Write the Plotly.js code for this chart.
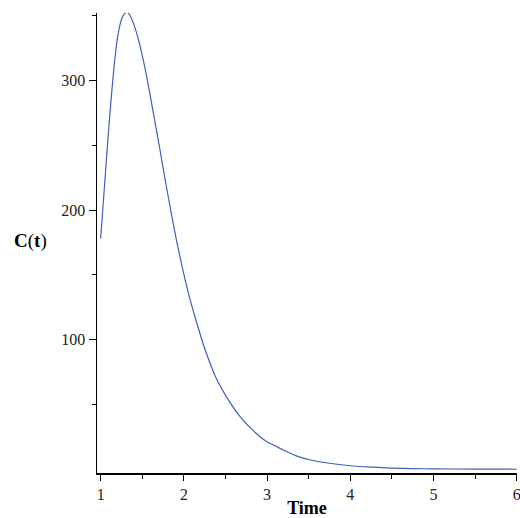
<!DOCTYPE html>
<html>
<head>
<meta charset="utf-8">
<script src="https://cdn.plot.ly/plotly-3.0.1.min.js"></script>
<style>html,body{margin:0;padding:0;background:#fff;}#chart{width:520px;height:518px;}</style>
</head>
<body>
<div id="chart"></div>
<script>
var timeVals = [1.0, 1.025, 1.05, 1.075, 1.1, 1.125, 1.15, 1.175, 1.2, 1.225, 1.25, 1.28, 1.315, 1.345, 1.37, 1.40, 1.43, 1.46, 1.49, 1.55, 1.61, 1.67, 1.73, 1.79, 1.85, 1.91, 1.99, 2.07, 2.15, 2.23, 2.29, 2.39, 2.51, 2.67, 2.83, 2.99, 3.19, 3.35, 3.51, 3.75, 4.03, 4.27, 4.5, 4.75, 5.0, 5.5, 6.0];
var concVals = [178, 200, 222, 244, 265, 285, 303, 319, 332, 341, 347, 351, 352.5, 351, 348, 343, 337, 330, 322, 304, 283, 262, 240, 218, 197, 177, 153, 132, 114, 97, 86, 70, 56, 41, 30, 21.5, 15, 10.3, 7.3, 4.6, 2.5, 1.6, 0.9, 0.5, 0.3, 0.1, 0.0];
var xTicks = [1, 2, 3, 4, 5, 6];
var xMinor = [1.5, 2.5, 3.5, 4.5, 5.5];
var yTicks = [100, 200, 300];
var yMinor = [50, 150, 250, 350];
var xTitle = "Time";
var yTitle = "<b>C</b>(<b>t</b>)";

var serif = "Liberation Serif, Times New Roman, serif";
var trace = {
  x: timeVals, y: concVals, type: "scatter", mode: "lines",
  line: {color: "#3f5fbf", width: 1.2, shape: "spline", smoothing: 0.6},
  hoverinfo: "none"
};
var layout = {
  width: 520, height: 518,
  margin: {l: 97, r: 3, t: 13, b: 45, pad: 0},
  paper_bgcolor: "#fff", plot_bgcolor: "#fff",
  showlegend: false,
  font: {family: serif, size: 16, color: "#222"},
  xaxis: {
    range: [0.956, 6.003], tickvals: xTicks, ticktext: xTicks.map(String),
    ticklabeloverflow: "allow",
    ticks: "outside", ticklen: 6, tickwidth: 1, tickcolor: "#000",
    showline: true, linecolor: "#000", linewidth: 1.5,
    showgrid: false, zeroline: false,
    minor: {tickvals: xMinor, ticks: "outside", ticklen: 4, tickcolor: "#000", showgrid: false},
    tickfont: {family: serif, size: 16, color: "#222"},
    title: {text: "<b>" + xTitle + "</b>", font: {family: serif, size: 18, color: "#000"}, standoff: 2}
  },
  yaxis: {
    range: [-2.9, 352], tickvals: yTicks, ticktext: yTicks.map(String),
    ticks: "outside", ticklen: 7, tickwidth: 1, tickcolor: "#000",
    showline: true, linecolor: "#000", linewidth: 1.5,
    showgrid: false, zeroline: false,
    minor: {tickvals: yMinor, ticks: "outside", ticklen: 4, tickcolor: "#000", showgrid: false},
    tickfont: {family: serif, size: 16, color: "#222"}
  },
  annotations: [{
    text: yTitle, xref: "paper", yref: "paper", x: -0.158, y: 0.505,
    xanchor: "center", yanchor: "middle", showarrow: false,
    font: {family: serif, size: 19, color: "#000"}
  }]
};
Plotly.newPlot("chart", [trace], layout, {staticPlot: true, displayModeBar: false});
</script>
</body>
</html>
